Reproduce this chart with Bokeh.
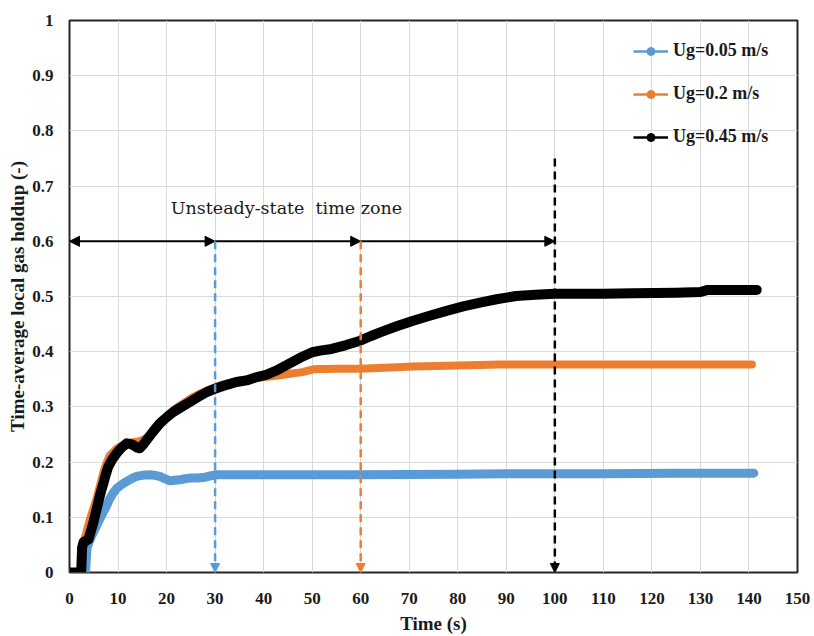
from bokeh.plotting import figure
from bokeh.models import (Arrow, NormalHead, Label, Legend, LegendItem, FixedTicker,
                          ColumnDataSource, Range1d)
from bokeh.embed import file_html
from bokeh.resources import INLINE

# ---------------- data ----------------
t_blue = [0, 2.9, 3.3, 3.6, 4.5, 5.6, 6.3, 7.0, 7.7, 8.3, 9.0, 9.7, 10.7, 11.8, 12.8,
          13.8, 15.0, 16.6, 17.6, 18.6, 19.6, 20.7, 21.7, 22.8, 23.8, 24.8, 26.2, 27.6,
          29.0, 30.3, 40, 60, 80, 90, 110, 125, 141]
v_blue = [0, 0, 0.0, 0.045, 0.065, 0.085, 0.098, 0.110, 0.122, 0.134, 0.144, 0.152, 0.159,
          0.165, 0.170, 0.174, 0.176, 0.177, 0.176, 0.174, 0.170, 0.166, 0.167, 0.168,
          0.170, 0.171, 0.171, 0.172, 0.175, 0.177, 0.177, 0.177, 0.178, 0.179, 0.179,
          0.180, 0.180]

t_orange = [0, 2.5, 2.7, 3.4, 4.2, 4.9, 5.6, 6.3, 7.0, 7.7, 8.3, 9.0, 9.7, 10.7, 11.8,
            13.1, 14.5, 15.5, 16.6, 18.3, 20.0, 21.7, 23.4, 25.1, 26.9, 29.0, 31.0, 34.0,
            37.2, 40.0, 43.0, 45.4, 48.0, 50.2, 55.0, 60.0, 65.0, 70.8, 80.0, 88.7, 100,
            120, 140.6]
v_orange = [0, 0, 0.05, 0.07, 0.096, 0.115, 0.135, 0.158, 0.182, 0.200, 0.212, 0.218,
            0.224, 0.229, 0.234, 0.236, 0.238, 0.242, 0.248, 0.266, 0.282, 0.296, 0.306,
            0.316, 0.324, 0.332, 0.339, 0.346, 0.351, 0.354, 0.357, 0.360, 0.363, 0.368,
            0.369, 0.369, 0.371, 0.373, 0.375, 0.377, 0.377, 0.377, 0.377]

t_black = [0, 2.4, 2.6, 2.9, 3.9, 4.4, 4.9, 5.4, 5.9, 6.4, 7.0, 7.5, 8.0, 8.8, 9.7, 10.7,
           11.8, 12.5, 13.1, 14.0, 14.5, 15.2, 15.9, 17.2, 18.6, 20.0, 21.4, 23.1, 24.8,
           26.5, 28.3, 30.3, 32.4, 34.4, 36.5, 38.6, 40.5, 42.7, 45.0, 47.5, 50.0, 51.6,
           54.0, 57.0, 59.9, 62.0, 64.0, 67.4, 70.8, 74.2, 77.7, 81.1, 84.6, 88.0, 92.0,
           96.0, 100.0, 110.0, 116.0, 125.0, 130.0, 131.5, 141.6]
v_black = [0, 0, 0.045, 0.055, 0.060, 0.075, 0.090, 0.108, 0.126, 0.144, 0.162, 0.178,
           0.192, 0.205, 0.216, 0.226, 0.234, 0.233, 0.231, 0.226, 0.225, 0.232, 0.240,
           0.255, 0.270, 0.281, 0.291, 0.300, 0.309, 0.318, 0.327, 0.334, 0.340, 0.345,
           0.348, 0.354, 0.358, 0.366, 0.377, 0.389, 0.399, 0.402, 0.405, 0.412, 0.420,
           0.428, 0.435, 0.446, 0.456, 0.465, 0.474, 0.482, 0.489, 0.495, 0.501, 0.503,
           0.505, 0.505, 0.506, 0.507, 0.508, 0.512, 0.512]

series_labels = ["Ug=0.05 m/s", "Ug=0.2 m/s", "Ug=0.45 m/s"]
series_colors = ["#5B9BD5", "#ED7D31", "#000000"]

x_ticks = [0, 10, 20, 30, 40, 50, 60, 70, 80, 90, 100, 110, 120, 130, 140, 150]
y_ticks = [0, 0.1, 0.2, 0.3, 0.4, 0.5, 0.6, 0.7, 0.8, 0.9, 1]
y_tick_labels = ["0", "0.1", "0.2", "0.3", "0.4", "0.5", "0.6", "0.7", "0.8", "0.9", "1"]

# annotation positions (time marks and arrow level)
zone_marks = [0, 30, 60, 100]
arrow_level = 0.6
dash_tops = [0.6, 0.6, 0.75]
zone_text = "Unsteady-state \u00a0time zone"

# ---------------- figure ----------------
p = figure(width=814, height=636, x_range=Range1d(0, 150), y_range=Range1d(0, 1),
           output_backend="svg", toolbar_location=None,
           min_border_left=69, min_border_right=17, min_border_top=20, min_border_bottom=59)
p.background_fill_color = "white"
p.border_fill_color = "white"
p.outline_line_color = "#262626"
p.outline_line_width = 2

p.xaxis.ticker = FixedTicker(ticks=x_ticks)
p.yaxis.ticker = FixedTicker(ticks=y_ticks)
p.yaxis.major_label_overrides = {t: l for t, l in zip(y_ticks, y_tick_labels)}

for ax in (p.xaxis, p.yaxis):
    ax.axis_line_color = None
    ax.major_tick_line_color = None
    ax.minor_tick_line_color = None
    ax.major_label_text_font = "Liberation Serif"
    ax.major_label_text_font_style = "bold"
    ax.major_label_text_font_size = "17px"
    ax.major_label_text_color = "#1a1a1a"
    ax.axis_label_text_font = "Liberation Serif"
    ax.axis_label_text_font_style = "bold"
    ax.axis_label_text_font_size = "19px"
    ax.axis_label_text_color = "#1a1a1a"

p.xaxis.axis_label = "Time (s)"
p.yaxis.axis_label = "Time-average local gas holdup (-)"
p.xaxis.major_label_standoff = 14
p.yaxis.major_label_standoff = 10
p.xaxis.axis_label_standoff = 6
p.yaxis.axis_label_standoff = 1

p.xgrid.grid_line_color = "#d9d9d9"
p.ygrid.grid_line_color = "#d9d9d9"
p.xgrid.grid_line_width = 1
p.ygrid.grid_line_width = 1

# ---------------- series ----------------
data = [(t_blue, v_blue), (t_orange, v_orange), (t_black, v_black)]
widths = [9, 8, 10]
legend_items = []
for (tt, vv), lab, col, w in zip(data, series_labels, series_colors, widths):
    p.line(tt, vv, line_width=w, line_color=col, line_cap="round", line_join="round")
    dummy = ColumnDataSource(dict(x=[float("nan")], y=[float("nan")]))
    lr = p.line("x", "y", source=dummy, line_width=2.5, line_color=col)
    sr = p.scatter("x", "y", source=dummy, size=9, fill_color=col, line_color=col)
    legend_items.append(LegendItem(label=lab, renderers=[lr, sr]))

# ---------------- annotations ----------------
def head(col, size=10):
    return NormalHead(size=size, fill_color=col, line_color=col, line_width=1)

# horizontal arrows at level 0.6
p.add_layout(Arrow(x_start=zone_marks[1], y_start=arrow_level, x_end=zone_marks[0],
                   y_end=arrow_level, start=head("black"), end=head("black"),
                   line_color="black", line_width=2))
p.add_layout(Arrow(x_start=zone_marks[1], y_start=arrow_level, x_end=zone_marks[2],
                   y_end=arrow_level, start=None, end=head("black"),
                   line_color="black", line_width=2))
p.add_layout(Arrow(x_start=zone_marks[2], y_start=arrow_level, x_end=zone_marks[3],
                   y_end=arrow_level, start=None, end=head("black"),
                   line_color="black", line_width=2))

# vertical dashed arrows
for xm, top, col in zip(zone_marks[1:], dash_tops, series_colors):
    p.add_layout(Arrow(x_start=xm, y_start=top, x_end=xm, y_end=0,
                       start=None, end=head(col, 9), line_color=col, line_width=2.5,
                       line_dash="8 5"))

p.add_layout(Label(x=44.7, y=0.661, text=zone_text, text_align="center",
                   text_baseline="middle", text_font="DejaVu Serif",
                   text_font_size="17.5px", text_color="#1a1a1a"))

legend = Legend(items=legend_items, location=(564, 425), orientation="vertical",
                glyph_width=35, glyph_height=20, label_height=20, spacing=22,
                padding=0, margin=0, label_standoff=5,
                background_fill_alpha=0, border_line_alpha=0,
                label_text_font="Liberation Serif", label_text_font_style="bold",
                label_text_font_size="18px", label_text_color="#1a1a1a")
p.add_layout(legend)

open("out.html", "w").write(file_html(p, INLINE))
